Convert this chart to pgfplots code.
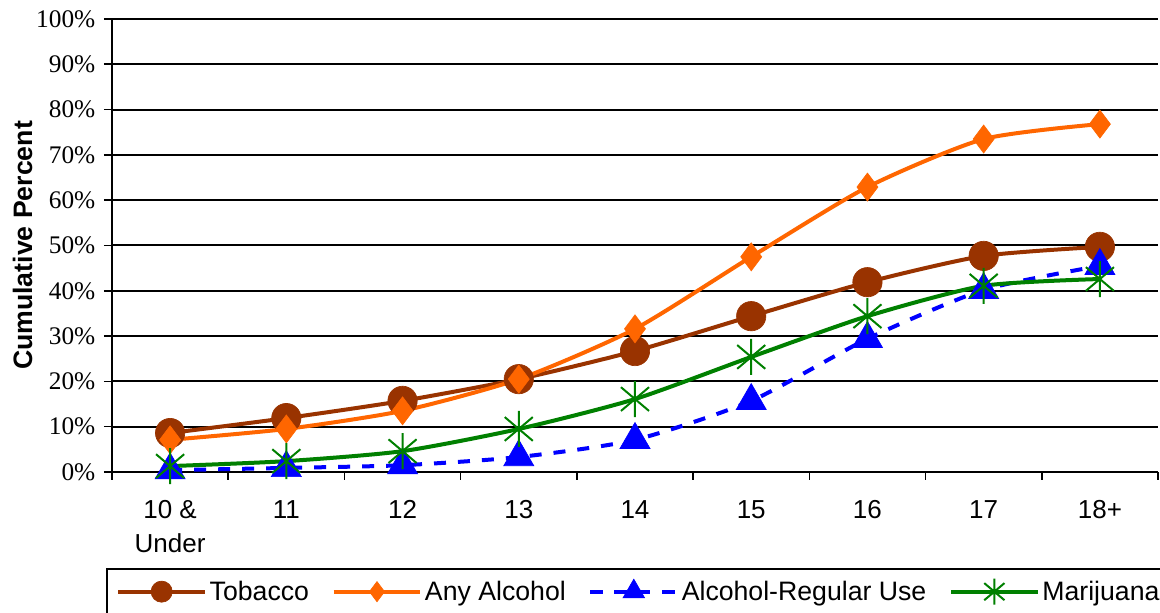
\documentclass[border=0pt]{standalone}
\usepackage{fontspec}
\setmainfont{Liberation Sans}
\newfontfamily\timesfont{Liberation Serif}
\usepackage{pgfplots}
\pgfplotsset{compat=1.18}

\definecolor{tobacco}{HTML}{993300}
\definecolor{anyalc}{HTML}{FF6600}
\definecolor{regular}{HTML}{0000FF}
\definecolor{marij}{HTML}{008000}

% Excel-like star: vertical bar plus an X
\pgfdeclareplotmark{xstar}{%
  \pgfpathmoveto{\pgfqpoint{0pt}{\pgfplotmarksize}}%
  \pgfpathlineto{\pgfqpoint{0pt}{-\pgfplotmarksize}}%
  \pgfpathmoveto{\pgfqpoint{0.78\pgfplotmarksize}{0.66\pgfplotmarksize}}%
  \pgfpathlineto{\pgfqpoint{-0.78\pgfplotmarksize}{-0.66\pgfplotmarksize}}%
  \pgfpathmoveto{\pgfqpoint{-0.78\pgfplotmarksize}{0.66\pgfplotmarksize}}%
  \pgfpathlineto{\pgfqpoint{0.78\pgfplotmarksize}{-0.66\pgfplotmarksize}}%
  \pgfusepathqstroke}

\begin{document}
\begin{tikzpicture}
\begin{axis}[
    at={(0,0)}, anchor=south west,
    scale only axis,
    width=784.5pt, height=339.75pt,
    xmin=-0.5, xmax=8.5,
    ymin=0, ymax=100,
    axis x line*=bottom,
    axis y line*=left,
    axis line style={line width=1.5pt, black},
    xtick={0,...,8},
    xticklabels={{10 \&\\Under},11,12,13,14,15,16,17,18+},
    major x tick style={draw=none},
    minor xtick={-0.5,0.5,...,8.5},
    minor x tick style={line width=1.2pt, black},
    minor tick length=6pt,
    ytick={0,10,...,100},
    y tick style={line width=1.2pt, black},
    major tick length=6pt,
    tick align=outside,
    ymajorgrids,
    grid style={line width=1.5pt, black},
    /pgf/number format/assume math mode=true,
    yticklabel={\pgfmathprintnumber{\tick}\%},
    yticklabel style={font=\fontsize{19}{21}\timesfont, xshift=-3pt},
    xticklabel style={font=\fontsize{19.5}{25}\selectfont, align=center, anchor=north, yshift=-12pt},
    ylabel={\textbf{Cumulative Percent}},
    ylabel style={font=\fontsize{20}{22}\selectfont, at={(axis description cs:0,0.5)}, yshift=67pt, anchor=center},
    legend style={at={(0,0)}, anchor=north west, xshift=-4.5pt, yshift=-72pt,
        legend columns=4, draw=black, line width=1.5pt,
        font=\fontsize{20}{22}\selectfont,
        inner xsep=7pt, inner ysep=7pt,
        nodes={inner xsep=2pt},
        /tikz/every even column/.append style={column sep=15pt}},
    legend image code/.code={%
        \draw[mark repeat=2, mark phase=2, every mark/.append style={scale=0.72}]
          plot coordinates {(0pt,0pt) (32.5pt,0pt) (65pt,0pt)};},
    every axis plot/.append style={line width=3pt, smooth, tension=0.4},
    clip=false,
]
\addplot[color=tobacco, mark=*, mark size=11pt, mark options={solid, fill=tobacco, line width=0.5pt}]
  coordinates {(0,8.6) (1,11.9) (2,15.7) (3,20.5) (4,26.7) (5,34.4) (6,41.9) (7,47.7) (8,49.7)};
\addlegendentry{Tobacco}
\addplot[color=anyalc, mark=diamond*, mark size=10.5pt, mark options={solid, fill=anyalc, line width=0.5pt}]
  coordinates {(0,7.1) (1,9.5) (2,13.5) (3,20.5) (4,31.6) (5,47.5) (6,62.9) (7,73.5) (8,76.8)};
\addlegendentry{Any Alcohol}
\addplot[color=regular, dash pattern=on 9pt off 9pt, mark=triangle*, mark size=13pt, mark options={solid, fill=regular, line width=0.5pt}]
  coordinates {(0,0.4) (1,0.9) (2,1.5) (3,3.3) (4,7.1) (5,15.7) (6,29.4) (7,40.2) (8,45.5)};
\addlegendentry{Alcohol-Regular Use}
\addplot[color=marij, mark=xstar, mark size=13.5pt, mark options={solid, line width=1.5pt}]
  coordinates {(0,1.3) (1,2.4) (2,4.6) (3,9.5) (4,16.1) (5,25.4) (6,34.4) (7,41.1) (8,42.6)};
\addlegendentry{Marijuana}
\end{axis}
\pgfresetboundingbox
\useasboundingbox (-84pt,-105.75pt) rectangle (786pt,354pt);
\end{tikzpicture}
\end{document}
